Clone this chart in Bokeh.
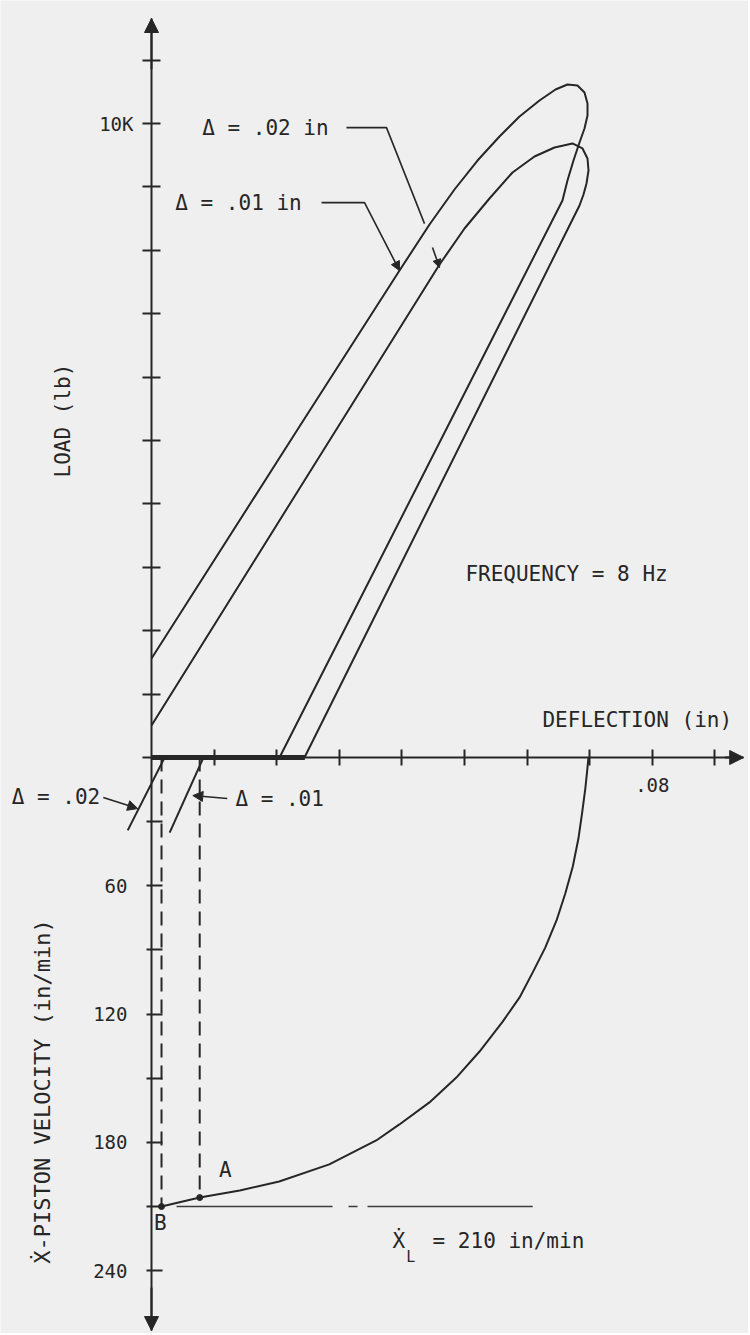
import math
from bokeh.plotting import figure
from bokeh.models import Range1d, LinearAxis, FixedTicker, Arrow, NormalHead
from bokeh.core.properties import value
from bokeh.embed import file_html
from bokeh.resources import INLINE

# ---------------- data ----------------
defl_ticks = [0.01, 0.02, 0.03, 0.04, 0.05, 0.06, 0.07, 0.08, 0.09]
defl_labels = {0.08: ".08"}
load_ticks = [0, 1000, 2000, 3000, 4000, 5000, 6000, 7000, 8000, 9000, 10000, 11000]
load_labels = {10000: "10K"}
vel_ticks = [30, 60, 90, 120, 150, 180, 210, 240]
vel_labels = {60: "60", 120: "120", 180: "180", 240: "240"}

# hysteresis loop, delta = .02 in  (deflection in, load lb)
loop02_defl = [0.0, 0.02364, 0.03962, 0.04441, 0.04840, 0.05208, 0.05559, 0.05879,
               0.06198, 0.06454, 0.06645, 0.06805, 0.06917, 0.06965, 0.06965, 0.06917,
               0.06837, 0.06741, 0.06645, 0.06565, 0.02045]
loop02_load = [1561, 5221, 7681, 8407, 8959, 9416, 9795, 10110,
               10363, 10536, 10615, 10599, 10489, 10316, 10126, 9921,
               9700, 9416, 9101, 8786, 0]
# hysteresis loop, delta = .01 in
loop01_defl = [0.0, 0.02364, 0.03962, 0.04601, 0.05000, 0.05399, 0.05767, 0.06118,
               0.06438, 0.06725, 0.06885, 0.06965, 0.06981, 0.06949, 0.06901, 0.06837, 0.02444]
loop01_load = [505, 4243, 6767, 7776, 8344, 8817, 9227, 9480,
               9622, 9685, 9606, 9448, 9259, 9054, 8880, 8707, 0]
contact_defl = [0.0, 0.0245]
contact_load = [0, 0]

# piston velocity vs deflection (in, in/min)
vel_defl = [0.0016, 0.0077, 0.0141, 0.0204, 0.0284, 0.0359, 0.0396, 0.0444, 0.0487,
            0.0524, 0.0561, 0.0588, 0.0609, 0.0629, 0.0647, 0.0661, 0.0673, 0.0682,
            0.0688, 0.0693, 0.0696, 0.0698]
vel_rate = [210, 205.8, 202.5, 198.3, 190.3, 179.1, 171.6, 161.3, 149.7,
            137.5, 123.5, 112.2, 100.5, 88.9, 76.2, 63.6, 51.0, 37.9,
            25.7, 14.5, 6.1, 0]

xl_rate = 210
xl_defl = [0.0040, 0.0609]
point_names = ["B", "A"]
point_defl = [0.0016, 0.0077]
point_rate = [210, 205.8]

# short unloading lines below the axis
d02_defl = [-0.0038, 0.0021]
d02_rate = [34.1, 0]
d01_defl = [0.0029, 0.0083]
d01_rate = [35.1, 0]

# leaders of the top annotations
lead01_defl = [0.02716, 0.03403, 0.03962]
lead01_load = [8752, 8752, 7680]
lead02_defl = [0.03115, 0.03754, 0.04361]
lead02_load = [9935, 9935, 8421]
tick02_defl = [0.04489, 0.04601]
tick02_load = [8043, 7728]

# ---------------- layout / scales ----------------
W, H = 748, 1333
ORIGIN_X, ORIGIN_Y = 151, 757          # figure pixels of (0, 0)
PX_DEFL = 62.6 / 0.01
PX_LOAD = 63.4 / 1000
PX_RATE = 128.3 / 60

INK = "#262626"
BG = "#efefef"
FONT = "DejaVu Sans Mono"
FS = "21px"
TFS = "19px"

x_range = Range1d(-ORIGIN_X / PX_DEFL, (W - ORIGIN_X) / PX_DEFL)
y_range = Range1d(-(H - ORIGIN_Y) / PX_LOAD, ORIGIN_Y / PX_LOAD)

p = figure(width=W, height=H, output_backend="svg", toolbar_location=None,
           x_range=x_range, y_range=y_range, x_axis_type=None, y_axis_type=None,
           min_border=0, background_fill_color=BG, border_fill_color=BG)
p.outline_line_color = None
p.extra_y_ranges = {"vel": Range1d(start=(H - ORIGIN_Y) / PX_RATE, end=-ORIGIN_Y / PX_RATE)}

def style_axis(ax, tin, tout, standoff, labels, ticks):
    ax.ticker = FixedTicker(ticks=ticks)
    ax.major_label_overrides = {t: labels.get(t, "") for t in ticks}
    ax.axis_line_color = INK
    ax.axis_line_width = 2
    ax.major_tick_line_color = INK
    ax.major_tick_line_width = 2
    ax.major_tick_in = tin
    ax.major_tick_out = tout
    ax.minor_tick_line_color = None
    ax.major_label_standoff = standoff
    ax.major_label_text_font = FONT
    ax.major_label_text_font_size = TFS
    ax.major_label_text_color = INK

top_load = 11656
bot_rate = 268.0
right_defl = 0.0946

ax_load = LinearAxis(fixed_location=0, bounds=(0, top_load))
style_axis(ax_load, 9, 9, 9, load_labels, load_ticks)
p.add_layout(ax_load, "left")

ax_vel = LinearAxis(fixed_location=0, y_range_name="vel", bounds=(0, bot_rate))
style_axis(ax_vel, 11, 5, 19, vel_labels, vel_ticks)
p.add_layout(ax_vel, "left")

ax_x = LinearAxis(fixed_location=0, bounds=(0, right_defl))
style_axis(ax_x, 8, 8, 12, defl_labels, defl_ticks)
p.add_layout(ax_x, "below")

# axis arrow heads
HEAD = dict(size=14, fill_color=INK, line_color=INK)
p.add_layout(Arrow(end=NormalHead(**HEAD), x_start=0, y_start=top_load - 800,
                   x_end=0, y_end=top_load, line_color=INK, line_width=2))
p.add_layout(Arrow(end=NormalHead(**HEAD), x_start=0, y_start=bot_rate - 20,
                   x_end=0, y_end=bot_rate, line_color=INK, line_width=2, y_range_name="vel"))
p.add_layout(Arrow(end=NormalHead(**HEAD), x_start=right_defl - 0.003, y_start=0,
                   x_end=right_defl, y_end=0, line_color=INK, line_width=2))

# loops
p.line(loop02_defl, loop02_load, line_color=INK, line_width=2, line_join="round")
p.line(loop01_defl, loop01_load, line_color=INK, line_width=2, line_join="round")
p.line(contact_defl, contact_load, line_color=INK, line_width=5)

# leaders
p.line(lead01_defl, lead01_load, line_color=INK, line_width=1.6)
p.line(lead02_defl, lead02_load, line_color=INK, line_width=1.6)
p.add_layout(Arrow(end=NormalHead(size=9, fill_color=INK, line_color=INK), line_alpha=0,
                   x_start=lead01_defl[1], y_start=lead01_load[1],
                   x_end=lead01_defl[2], y_end=lead01_load[2]))
p.add_layout(Arrow(end=NormalHead(size=8, fill_color=INK, line_color=INK),
                   line_color=INK, line_width=1.6,
                   x_start=tick02_defl[0], y_start=tick02_load[0],
                   x_end=tick02_defl[1], y_end=tick02_load[1]))

# velocity panel
p.line(vel_defl, vel_rate, line_color=INK, line_width=2, line_join="round", y_range_name="vel")
p.line(xl_defl, [xl_rate, xl_rate], line_color="#3a3a3a", line_width=1.5,
       line_dash="156 16 9 10 400", y_range_name="vel")
for d, r in zip(point_defl, point_rate):
    p.line([d, d], [0, r], line_color=INK, line_width=2, line_dash="14 8", y_range_name="vel")
p.scatter(point_defl, point_rate, size=6, color=INK, y_range_name="vel")
p.line(d02_defl, d02_rate, line_color=INK, line_width=2, y_range_name="vel")
p.line(d01_defl, d01_rate, line_color=INK, line_width=2, y_range_name="vel")
p.add_layout(Arrow(end=NormalHead(size=10, fill_color=INK, line_color=INK),
                   line_color=INK, line_width=1.6, y_range_name="vel",
                   x_start=-0.0077, y_start=18.7, x_end=-0.0022, y_end=23.9))
p.add_layout(Arrow(end=NormalHead(size=10, fill_color=INK, line_color=INK),
                   line_color=INK, line_width=1.6, y_range_name="vel",
                   x_start=0.0121, y_start=19.2, x_end=0.0066, y_end=17.8))

# texts
def txt(x, y, s, align="left", angle=0.0, rng="default", size=FS):
    p.text([x], [y], text=[s], text_font=value(FONT), text_font_size=size,
           text_color=INK, text_align=align, text_baseline="middle", angle=angle,
           y_range_name=rng)

txt(0.0182, 9935, "\u0394 = .02 in", "center")
txt(0.0139, 8752, "\u0394 = .01 in", "center")
txt(-0.0142, 5315, "LOAD (lb)", "center", math.pi / 2)
txt(0.0663, 2902, "FREQUENCY = 8 Hz", "center")
txt(0.0776, 584, "DEFLECTION (in)", "center")
txt(-0.0082, 18.7, "\u0394 = .02", "right", rng="vel")
txt(0.0134, 19.2, "\u0394 = .01", "left", rng="vel")
txt(-0.0174, 156.2, "\u1E8A-PISTON VELOCITY (in/min)", "center", math.pi / 2, rng="vel",
    size="22px")
txt(0.0118, 193.1, "A", "center", rng="vel")
txt(0.0014, 217.9, "B", "center", rng="vel")
txt(0.0395, 225.9, "\u1E8A", "center", rng="vel")
txt(0.0414, 233.4, "L", "center", rng="vel", size="15px")
txt(0.0449, 225.9, "= 210 in/min", "left", rng="vel")

open("out.html", "w").write(file_html(p, INLINE))
